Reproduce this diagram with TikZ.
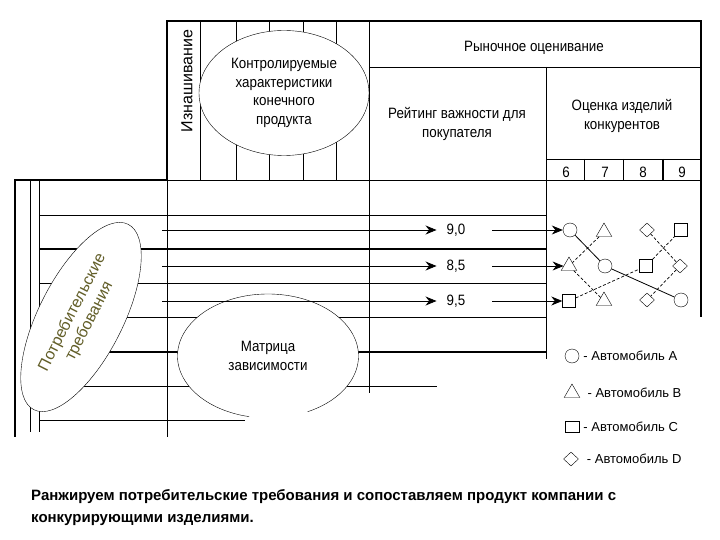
\documentclass[tikz,border=0pt]{standalone}
\usepackage{fontspec}
\setmainfont{Liberation Sans}
\newfontfamily\labelfont[FakeStretch=0.89]{Liberation Sans}
\usetikzlibrary{positioning, shapes.geometric, arrows.meta}

\begin{document}
\begin{tikzpicture}[x=1pt, y=-1pt,
    every node/.style={font=\labelfont\fontsize{15}{18.5}\selectfont, inner sep=1pt},
    grid/.style={line width=0.8pt},
    heavy/.style={line width=2.6pt},
    bubble/.style={ellipse, fill=white, inner sep=0pt, align=center},
    rating/.style={-{Stealth[length=11pt, width=9pt]}, line width=0.8pt},
    carA/.style={circle, draw, minimum size=14pt, inner sep=0pt},
    carB/.style={regular polygon, regular polygon sides=3, draw, minimum size=18pt, inner sep=0pt},
    carC/.style={rectangle, draw, minimum size=13pt, inner sep=0pt},
    carD/.style={diamond, draw, minimum width=15pt, minimum height=14pt, inner sep=0pt},
    link/.style={densely dashed, line width=0.7pt},
    legend/.style={font=\fontsize{13}{15}\selectfont}
]
\useasboundingbox (0,0) rectangle (720,540);

% Frame of the house
\draw[heavy] (166,21) -- (702,21);
\draw[heavy] (167,21) -- (167,180);
\draw[heavy] (701,21) -- (701,317);
\draw[heavy] (14,180) -- (167,180);
\draw[heavy] (15,180) -- (15,437);
\draw[grid] (167,180) -- (701,180);
\draw[grid] (167,180) -- (167,437);

% Roof columns and header cells
\foreach \x in {200,236,269,303,336}
    \draw[grid] (\x,21) -- (\x,180);
\draw[grid] (369,21) -- (369,393);
\draw[grid] (369,67) -- (701,67);
\draw[grid] (546,67) -- (546,359);
\draw[grid] (546,159) -- (701,159);
\foreach \x in {584,623}
    \draw[grid] (\x,159) -- (\x,180);
\draw[line width=1.8pt] (663,159) -- (663,180);

% Requirement rows
\draw[grid] (30,180) -- (30,432);
\draw[grid] (39,180) -- (39,432);
\foreach \y in {215,283,317}
    \draw[grid] (39,\y) -- (546,\y);
\foreach \y in {249,352}
    \draw[heavy] (39,\y) -- (546,\y);
\draw[grid] (39,386) -- (437,386);
\draw[grid] (39,420) -- (245,420);

% Bubbles
\node[bubble, draw, minimum width=170pt, minimum height=125pt] (ctrl) at (284,93)
    {Контролируемые\\характеристики\\конечного\\продукта};
\node[bubble, draw, rotate=63, minimum width=208pt, minimum height=84pt,
      text=olive!60!black, font=\fontsize{16}{19}\selectfont] (needs) at (81,317)
    {Потребительские\\требования};
\node[bubble, minimum width=181pt, minimum height=124pt] (dep) at (268,356)
    {Матрица\\зависимости};
\draw ([shift={(-64:90.5pt and 62pt)}]dep.center)
    arc[start angle=-64, end angle=258, x radius=90.5pt, y radius=62pt];

% Headings
\node[rotate=90, font=\fontsize{16}{19}\selectfont] (wear) at (187,81) {Изнашивание};
\node (market) at (534,48) {Рыночное оценивание};
\node[align=center] (rank) at (457,124) {Рейтинг важности для\\покупателя};
\node[align=center] (rival) at (622,116) {Оценка изделий\\конкурентов};
\foreach \n/\x in {6/566,7/605,8/643,9/682}
    \node (n\n) at (\x,172) {\n};

% Competitor marks
\node[carA] (a1) at (570,230) {};
\node[carB] (b1) at (604,232) {};
\node[carD] (d1) at (647,230) {};
\node[carC] (c1) at (681,230) {};
\node[carB] (b2) at (569,266) {};
\node[carA] (a2) at (605,266) {};
\node[carC] (c2) at (646,266) {};
\node[carD] (d2) at (680,266) {};
\node[carC] (c3) at (569,301) {};
\node[carB] (b3) at (604,301) {};
\node[carD] (d3) at (647,300) {};
\node[carA] (a3) at (681,300) {};

\draw[line width=0.8pt] (a1) -- (a2) -- (a3);
\draw[link] (b1) -- (b2) -- (b3);
\draw[link] (c3) -- (c2) -- (c1);
\draw[link] (d1) -- (d2) -- (d3);

% Ratings
\coordinate (s1) at (162,230);
\coordinate (s2) at (162,266);
\coordinate (s3) at (162,301);
\node (v1) at (456,230) {9,0};
\node (v2) at (456,266) {8,5};
\node (v3) at (456,301) {9,5};
\draw[rating, shorten >=9pt] (s1) -- (v1);
\draw[rating, shorten >=9pt] (s2) -- (v2);
\draw[rating, shorten >=9pt] (s3) -- (v3);
\draw[rating, shorten <=26pt] (v1) -- (a1);
\draw[rating, shorten <=26pt] (v2) -- (b2);
\draw[rating, shorten <=26pt] (v3) -- (c3);

% Legend
\node[carA] (legA) at (572,356) {};
\node[carB] (legB) at (572,393) {};
\node[carC, minimum width=14pt, minimum height=11pt] (legC) at (572,427) {};
\node[carD] (legD) at (571,459) {};
\node[legend, right=3pt of legA] (txtA) {- Автомобиль А};
\node[legend, right=9pt of legB] (txtB) {- Автомобиль В};
\node[legend, right=3pt of legC] (txtC) {- Автомобиль С};
\node[legend, right=7pt of legD] (txtD) {- Автомобиль D};

% Caption
\node[anchor=north west, align=left, font=\bfseries\fontsize{15}{22}\selectfont] (caption) at (30,488)
    {Ранжируем потребительские требования и сопоставляем продукт компании с\\конкурирующими изделиями.};
\end{tikzpicture}
\end{document}
